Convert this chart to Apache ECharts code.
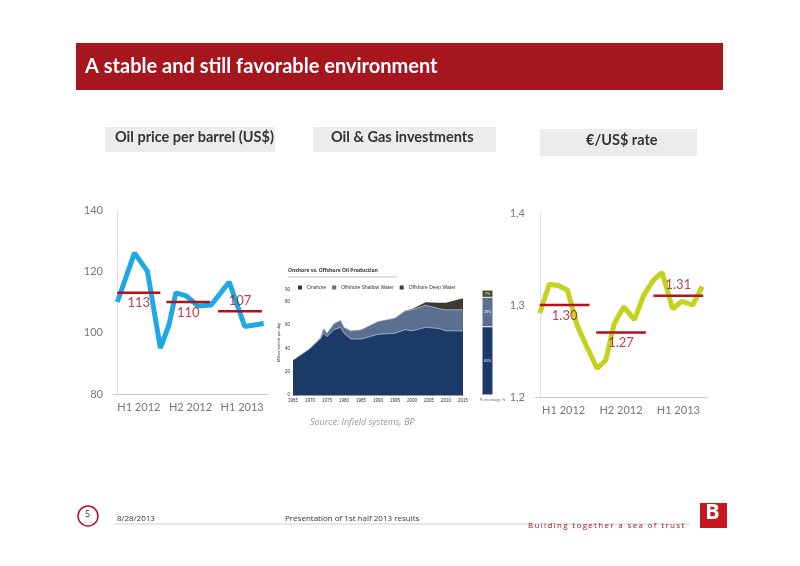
<!DOCTYPE html>
<html><head><meta charset="utf-8">
<script src="https://cdn.jsdelivr.net/npm/echarts@6/dist/echarts.min.js"></script>
<style>html,body{margin:0;padding:0;background:#fff}#c{width:800px;height:566px}</style>
</head><body><div id="c"></div>
<script>
// Oil price (US$/bbl), x in months from Jan 2012
const oilX = [0, 2, 3.5, 5, 6, 6.8, 8, 9.4, 10.9, 13, 14.8, 17];
const oilY = [110, 126, 120, 95, 102.5, 113, 112, 108.7, 109, 116.5, 102, 103];
const oilAvg = [[0, 5, 113], [5.7, 10.8, 110], [11.7, 16.8, 107]];
// EUR/USD rate
const fxX = [0, 1, 2, 2.9, 3.9, 5, 6, 6.9, 7.8, 8.8, 9.9, 10.9, 11.9, 12.8, 13.9, 14.9, 16, 17];
const fxY = [1.291, 1.3225, 1.321, 1.316, 1.278, 1.253, 1.231, 1.240, 1.280, 1.298, 1.284, 1.311, 1.327, 1.3355, 1.296, 1.304, 1.300, 1.320];
const fxAvg = [[0, 5.2, 1.30], [5.9, 11.1, 1.27], [11.9, 17.1, 1.31]];
const periodLabels = ['H1 2012', 'H2 2012', 'H1 2013'];
const fxTicks = ['1,2', '1,3', '1,4'];
// Onshore vs offshore production (million barrels/day)
const years = [1965, 1970, 1973, 1974, 1975, 1977, 1979, 1980, 1982, 1985, 1990, 1995, 1998, 2000, 2004, 2008, 2010, 2015];
const onshore = [30, 40, 48, 53, 50, 56, 58, 53, 48, 48, 52, 53, 56, 55, 58, 57, 55, 55];
const shallow = [0, 0, 1, 4, 3, 5, 6, 5, 7, 8, 11, 13, 16, 18, 19, 17, 18, 18];
const deep = [0, 0, 0, 0, 0, 0, 0, 0, 0, 0, 0, 0, 0.5, 0.8, 2.5, 5, 6, 10];
const shareLabels = ['65%', '28%', '7%'];
const share = [65, 28, 7];

const cumShallow = onshore.map((v, i) => v + shallow[i]);
const cumDeep = cumShallow.map((v, i) => v + deep[i]);

const red = '#b3121c';
const axFont = 'Lato';
function avgSeries(avg, xi, yi, labelPos) {
  const out = [];
  avg.forEach((a, i) => {
    out.push({
      type: 'line', xAxisIndex: xi, yAxisIndex: yi, symbol: 'none', silent: true,
      lineStyle: {color: red, width: 2.5}, z: 5,
      data: [[a[0], a[2]], [a[1], a[2]]]
    });
    out.push({
      type: 'scatter', xAxisIndex: xi, yAxisIndex: yi, symbol: 'circle', symbolSize: 2, silent: true, z: 6,
      itemStyle: {color: 'rgba(0,0,0,0)'},
      label: {show: true, position: labelPos[i], distance: 3, color: '#a0141e', fontSize: 13, fontFamily: axFont,
        formatter: () => (yi === 1 ? a[2].toFixed(2) : String(a[2]))},
      data: [[(a[0] + a[1]) / 2, a[2]]]
    });
  });
  return out;
}
const chart = echarts.init(document.getElementById('c'), null, {renderer: 'canvas'});
const lab = {color: '#777', fontSize: 11, fontFamily: axFont};
function area(name, vals, color, line) {
  return {name, type: 'line', xAxisIndex: 2, yAxisIndex: 2, symbol: 'none',
    lineStyle: {width: line ? 0.6 : 0, color: '#dfe6f0'}, itemStyle: {color}, areaStyle: {color, opacity: 1},
    data: years.map((y, i) => [y, vals[i]])};
}
const spaced = s => s.split('').join('\u2009');
chart.setOption({
  animation: false,
  graphic: [
    {type: 'rect', shape: {x: 76, y: 43, width: 647, height: 47}, style: {fill: '#a5161f'}},
    {type: 'text', left: 85, top: 57, style: {text: 'A stable and still favorable environment', fill: '#fff', font: 'bold 20px Lato'}},
    {type: 'rect', shape: {x: 105, y: 127, width: 170, height: 25}, style: {fill: '#ececec'}},
    {type: 'text', left: 115, top: 130, style: {text: 'Oil price per barrel (US$)', fill: '#333', font: 'bold 14.5px Lato'}},
    {type: 'rect', shape: {x: 313, y: 127, width: 183, height: 25}, style: {fill: '#ececec'}},
    {type: 'text', left: 331, top: 130, style: {text: 'Oil & Gas investments', fill: '#333', font: 'bold 14.5px Lato'}},
    {type: 'rect', shape: {x: 540, y: 129, width: 157, height: 27}, style: {fill: '#ececec'}},
    {type: 'text', left: 586, top: 133, style: {text: '€/US$ rate', fill: '#333', font: 'bold 14.5px Lato'}},
    {type: 'text', left: 288, top: 268, style: {text: 'Onshore vs. Offshore Oil Production', fill: '#333', font: 'bold 5px "Open Sans"'}},
    {type: 'line', shape: {x1: 288, y1: 277, x2: 397, y2: 277}, style: {stroke: '#999', lineWidth: 0.6}},
    {type: 'text', left: 310, top: 418, style: {text: 'Source: Infield systems, BP', fill: '#999', font: 'italic 9px "Open Sans"'}},
    {type: 'text', left: 480, top: 398, style: {text: 'Percentage %', fill: '#555', font: '4px "Open Sans"'}},
    {type: 'circle', shape: {cx: 88, cy: 516, r: 10}, style: {fill: '#fff', stroke: red, lineWidth: 1.5}},
    {type: 'text', left: 85, top: 510, style: {text: '5', fill: '#333', font: '9px "Open Sans"'}},
    {type: 'text', left: 117, top: 515, style: {text: '8/28/2013', fill: '#333', font: '8px "Open Sans"'}},
    {type: 'text', left: 285, top: 515, style: {text: 'Presentation of 1st half 2013 results', fill: '#333', font: '8px "Open Sans"'}},
    {type: 'line', shape: {x1: 114, y1: 524, x2: 690, y2: 524}, style: {stroke: '#bbb', lineWidth: 0.7}},
    {type: 'text', left: 528, top: 522, style: {text: spaced('Building together a sea of trust'), fill: '#a5161f', font: '8px "Open Sans"'}},
    {type: 'rect', shape: {x: 700, y: 503, width: 27, height: 25}, style: {fill: '#c8161f'}},
    {type: 'text', left: 705, top: 502, style: {text: 'B', fill: '#fff', font: 'bold 22px "Open Sans"'}}
  ],
  grid: [
    {left: 113, top: 210, width: 155, height: 184},
    {left: 535, top: 213, width: 172, height: 184},
    {left: 293, top: 290, width: 170, height: 105},
    {left: 482, top: 290, width: 11, height: 105},
    {left: 113, top: 210, width: 155, height: 184},
    {left: 535, top: 213, width: 172, height: 184}
  ],
  legend: {data: ['Onshore', 'Offshore Shallow Water', 'Offshore Deep Water'], left: 293, top: 280, itemWidth: 4, itemHeight: 4, itemGap: 6,
    textStyle: {fontSize: 5, color: '#333'}, icon: 'rect'},
  xAxis: [
    {gridIndex: 0, type: 'value', min: -0.5, max: 17.5, axisLabel: {show: false}, axisTick: {show: false}, splitLine: {show: false}, axisLine: {lineStyle: {color: '#ccc'}}},
    {gridIndex: 1, type: 'value', min: -0.5, max: 17.5, axisLabel: {show: false}, axisTick: {show: false}, splitLine: {show: false}, axisLine: {lineStyle: {color: '#ccc'}}},
    {gridIndex: 2, type: 'value', min: 1965, max: 2015, interval: 5, axisLabel: {fontSize: 4.5, color: '#333', margin: 3, formatter: v => String(v)}, axisTick: {show: false}, splitLine: {show: false}, axisLine: {lineStyle: {color: '#333', width: 0.5}}},
    {gridIndex: 3, type: 'category', data: ['share'], show: false},
    {gridIndex: 4, type: 'category', data: periodLabels, axisLine: {show: false}, axisTick: {show: false}, axisLabel: {...lab, margin: 8, interval: 0}},
    {gridIndex: 5, type: 'category', data: periodLabels, axisLine: {show: false}, axisTick: {show: false}, axisLabel: {...lab, margin: 8, interval: 0}}
  ],
  yAxis: [
    {gridIndex: 0, type: 'value', min: 80, max: 140, interval: 20, axisLabel: {...lab, margin: 10}, splitLine: {show: false}, axisLine: {show: true, lineStyle: {color: '#e0e0e0'}}, axisTick: {show: false}},
    {gridIndex: 1, type: 'value', min: 1.2, max: 1.4, interval: 0.1, axisLabel: {...lab, margin: 10, formatter: (v) => fxTicks[Math.round((v - 1.2) * 10)]}, splitLine: {show: false}, axisLine: {show: true, lineStyle: {color: '#e0e0e0'}}, axisTick: {show: false}},
    {gridIndex: 2, type: 'value', min: 0, max: 90, interval: 20, axisLabel: {fontSize: 4.5, color: '#333', margin: 3}, splitLine: {show: false}, axisLine: {show: false}, axisTick: {show: false},
      name: 'Million barrels per day', nameLocation: 'middle', nameGap: 10, nameTextStyle: {fontSize: 4, color: '#333'}},
    {gridIndex: 3, type: 'value', min: 0, max: 100, show: false},
    {gridIndex: 4, type: 'value', show: false},
    {gridIndex: 5, type: 'value', show: false}
  ],
  series: [
    {type: 'line', xAxisIndex: 0, yAxisIndex: 0, symbol: 'none', lineStyle: {color: '#1ea9e6', width: 5}, z: 3,
      data: oilX.map((x, i) => [x, oilY[i]])},
    ...avgSeries(oilAvg, 0, 0, ['bottom', 'bottom', 'top']),
    {type: 'line', xAxisIndex: 1, yAxisIndex: 1, symbol: 'none', lineStyle: {color: '#c5d21c', width: 5}, z: 3,
      data: fxX.map((x, i) => [x, fxY[i]])},
    ...avgSeries(fxAvg, 1, 1, ['bottom', 'bottom', 'top']),
    area('Offshore Deep Water', cumDeep, '#3b3b33', false),
    area('Offshore Shallow Water', cumShallow, '#5b6f91', true),
    area('Onshore', onshore, '#1b3a68', true),
    ...share.map((s, i) => ({type: 'bar', xAxisIndex: 3, yAxisIndex: 3, stack: 's', barWidth: '100%',
      itemStyle: {color: ['#1b3a68', '#5b6f91', '#4a4a2e'][i], borderColor: '#fff', borderWidth: 0.5},
      label: {show: true, formatter: shareLabels[i], fontSize: 3.5, color: '#fff'}, data: [s]}))
  ]
});
</script></body></html>
